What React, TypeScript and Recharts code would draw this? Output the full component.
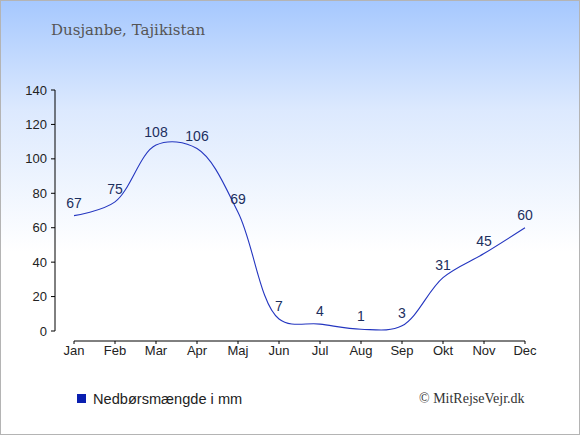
import { LineChart, Line, XAxis, YAxis, LabelList } from 'recharts';

const months = ['Jan', 'Feb', 'Mar', 'Apr', 'Maj', 'Jun', 'Jul', 'Aug', 'Sep', 'Okt', 'Nov', 'Dec'];
const rainfall = [67, 75, 108, 106, 69, 7, 4, 1, 3, 31, 45, 60];
const yTicks = [0, 20, 40, 60, 80, 100, 120, 140];

const data = months.map((month, i) => ({ month, rain: rainfall[i] }));

// centripetal catmull-rom curve (same maths as d3's curveCatmullRom, alpha 0.5)
const catmullRomCurve = (ctx: any) => {
  const alpha = 0.5;
  let pts: number[][] = [];
  const len = (a: number[], b: number[]) => Math.pow((a[0] - b[0]) ** 2 + (a[1] - b[1]) ** 2, alpha / 2);
  return {
    areaStart() {},
    areaEnd() {},
    lineStart() {
      pts = [];
    },
    point(x: number, y: number) {
      pts.push([+x, +y]);
    },
    lineEnd() {
      const n = pts.length;
      if (!n) return;
      ctx.moveTo(pts[0][0], pts[0][1]);
      if (n === 2) {
        ctx.lineTo(pts[1][0], pts[1][1]);
        return;
      }
      for (let i = 0; i < n - 1; i++) {
        const p0 = pts[i - 1];
        const p1 = pts[i];
        const p2 = pts[i + 1];
        const p3 = pts[i + 2];
        const l12a = len(p1, p2);
        const l12_2a = l12a * l12a;
        let c1 = p1;
        let c2 = p2;
        if (p0) {
          const l01a = len(p0, p1);
          const l01_2a = l01a * l01a;
          if (l01a > 1e-12) {
            const a = 2 * l01_2a + 3 * l01a * l12a + l12_2a;
            const k = 3 * l01a * (l01a + l12a);
            c1 = [
              (p1[0] * a - p0[0] * l12_2a + p2[0] * l01_2a) / k,
              (p1[1] * a - p0[1] * l12_2a + p2[1] * l01_2a) / k,
            ];
          }
        }
        if (p3) {
          const l23a = len(p2, p3);
          const l23_2a = l23a * l23a;
          if (l23a > 1e-12) {
            const b = 2 * l23_2a + 3 * l23a * l12a + l12_2a;
            const m = 3 * l23a * (l23a + l12a);
            c2 = [
              (p2[0] * b + p1[0] * l23_2a - p3[0] * l12_2a) / m,
              (p2[1] * b + p1[1] * l23_2a - p3[1] * l12_2a) / m,
            ];
          }
        }
        ctx.bezierCurveTo(c1[0], c1[1], c2[0], c2[1], p2[0], p2[1]);
      }
    },
  };
};

const tickStyle = { fill: '#222', fontSize: 13, fontFamily: 'Liberation Sans, Arial, sans-serif' };

export default function App() {
  return (
    <div
      style={{
        position: 'absolute',
        top: 0,
        left: 0,
        width: 580,
        height: 435,
        boxSizing: 'border-box',
        border: '1px solid #b4b4b4',
        background: 'linear-gradient(to bottom, #a6c8fe 0%, #dce9fe 25%, #ffffff 58%, #ffffff 100%)',
        overflow: 'hidden',
      }}
    >
      <div
        style={{
          position: 'absolute',
          left: 50,
          top: 20,
          fontFamily: 'DejaVu Serif, Georgia, serif',
          fontSize: 15,
          color: '#555',
          whiteSpace: 'nowrap',
        }}
      >
        Dusjanbe, Tajikistan
      </div>
      <div style={{ position: 'absolute', left: -1, top: -1 }}>
        <LineChart
          width={580}
          height={435}
          data={data}
          margin={{ top: 90, right: 55, bottom: 64, left: 15 }}
        >
          {/* spacer axes push the visible axes away from the plot */}
          <XAxis xAxisId="gap" dataKey="month" height={10} axisLine={false} tickLine={false} tick={false} />
          <XAxis
            xAxisId="vis"
            dataKey="month"
            height={30}
            tickSize={3}
            tickLine={{ stroke: '#000' }}
            axisLine={{ stroke: '#000' }}
            tick={tickStyle}
            interval={0}
          />
          <YAxis yAxisId="gap" width={19} domain={[0, 140]} axisLine={false} tickLine={false} tick={false} />
          <YAxis
            yAxisId="vis"
            width={40}
            domain={[0, 140]}
            ticks={yTicks}
            tickSize={4}
            tickMargin={4}
            tickLine={{ stroke: '#000' }}
            axisLine={{ stroke: '#000' }}
            tick={tickStyle}
            interval={0}
          />
          <Line
            xAxisId="vis"
            yAxisId="vis"
            dataKey="rain"
            type={catmullRomCurve as any}
            stroke="#2436c0"
            strokeWidth={1.1}
            dot={false}
            isAnimationActive={false}
          >
            <LabelList
              dataKey="rain"
              position="top"
              offset={8}
              style={{ fill: '#1c2f5e', fontSize: 14, fontFamily: 'Liberation Sans, Arial, sans-serif' }}
            />
          </Line>
        </LineChart>
      </div>
      <div
        style={{
          position: 'absolute',
          left: 76,
          top: 393,
          width: 9,
          height: 9,
          background: '#0a1fb0',
        }}
      />
      <div
        style={{
          position: 'absolute',
          left: 92,
          top: 390,
          fontFamily: 'Liberation Sans, Arial, sans-serif',
          fontSize: 14.6,
          color: '#222',
          whiteSpace: 'nowrap',
        }}
      >
        Nedbørsmængde i mm
      </div>
      <div
        style={{
          position: 'absolute',
          left: 418,
          top: 390,
          fontFamily: 'Liberation Serif, Times New Roman, serif',
          fontSize: 14,
          color: '#333',
          whiteSpace: 'nowrap',
        }}
      >
        © MitRejseVejr.dk
      </div>
    </div>
  );
}
